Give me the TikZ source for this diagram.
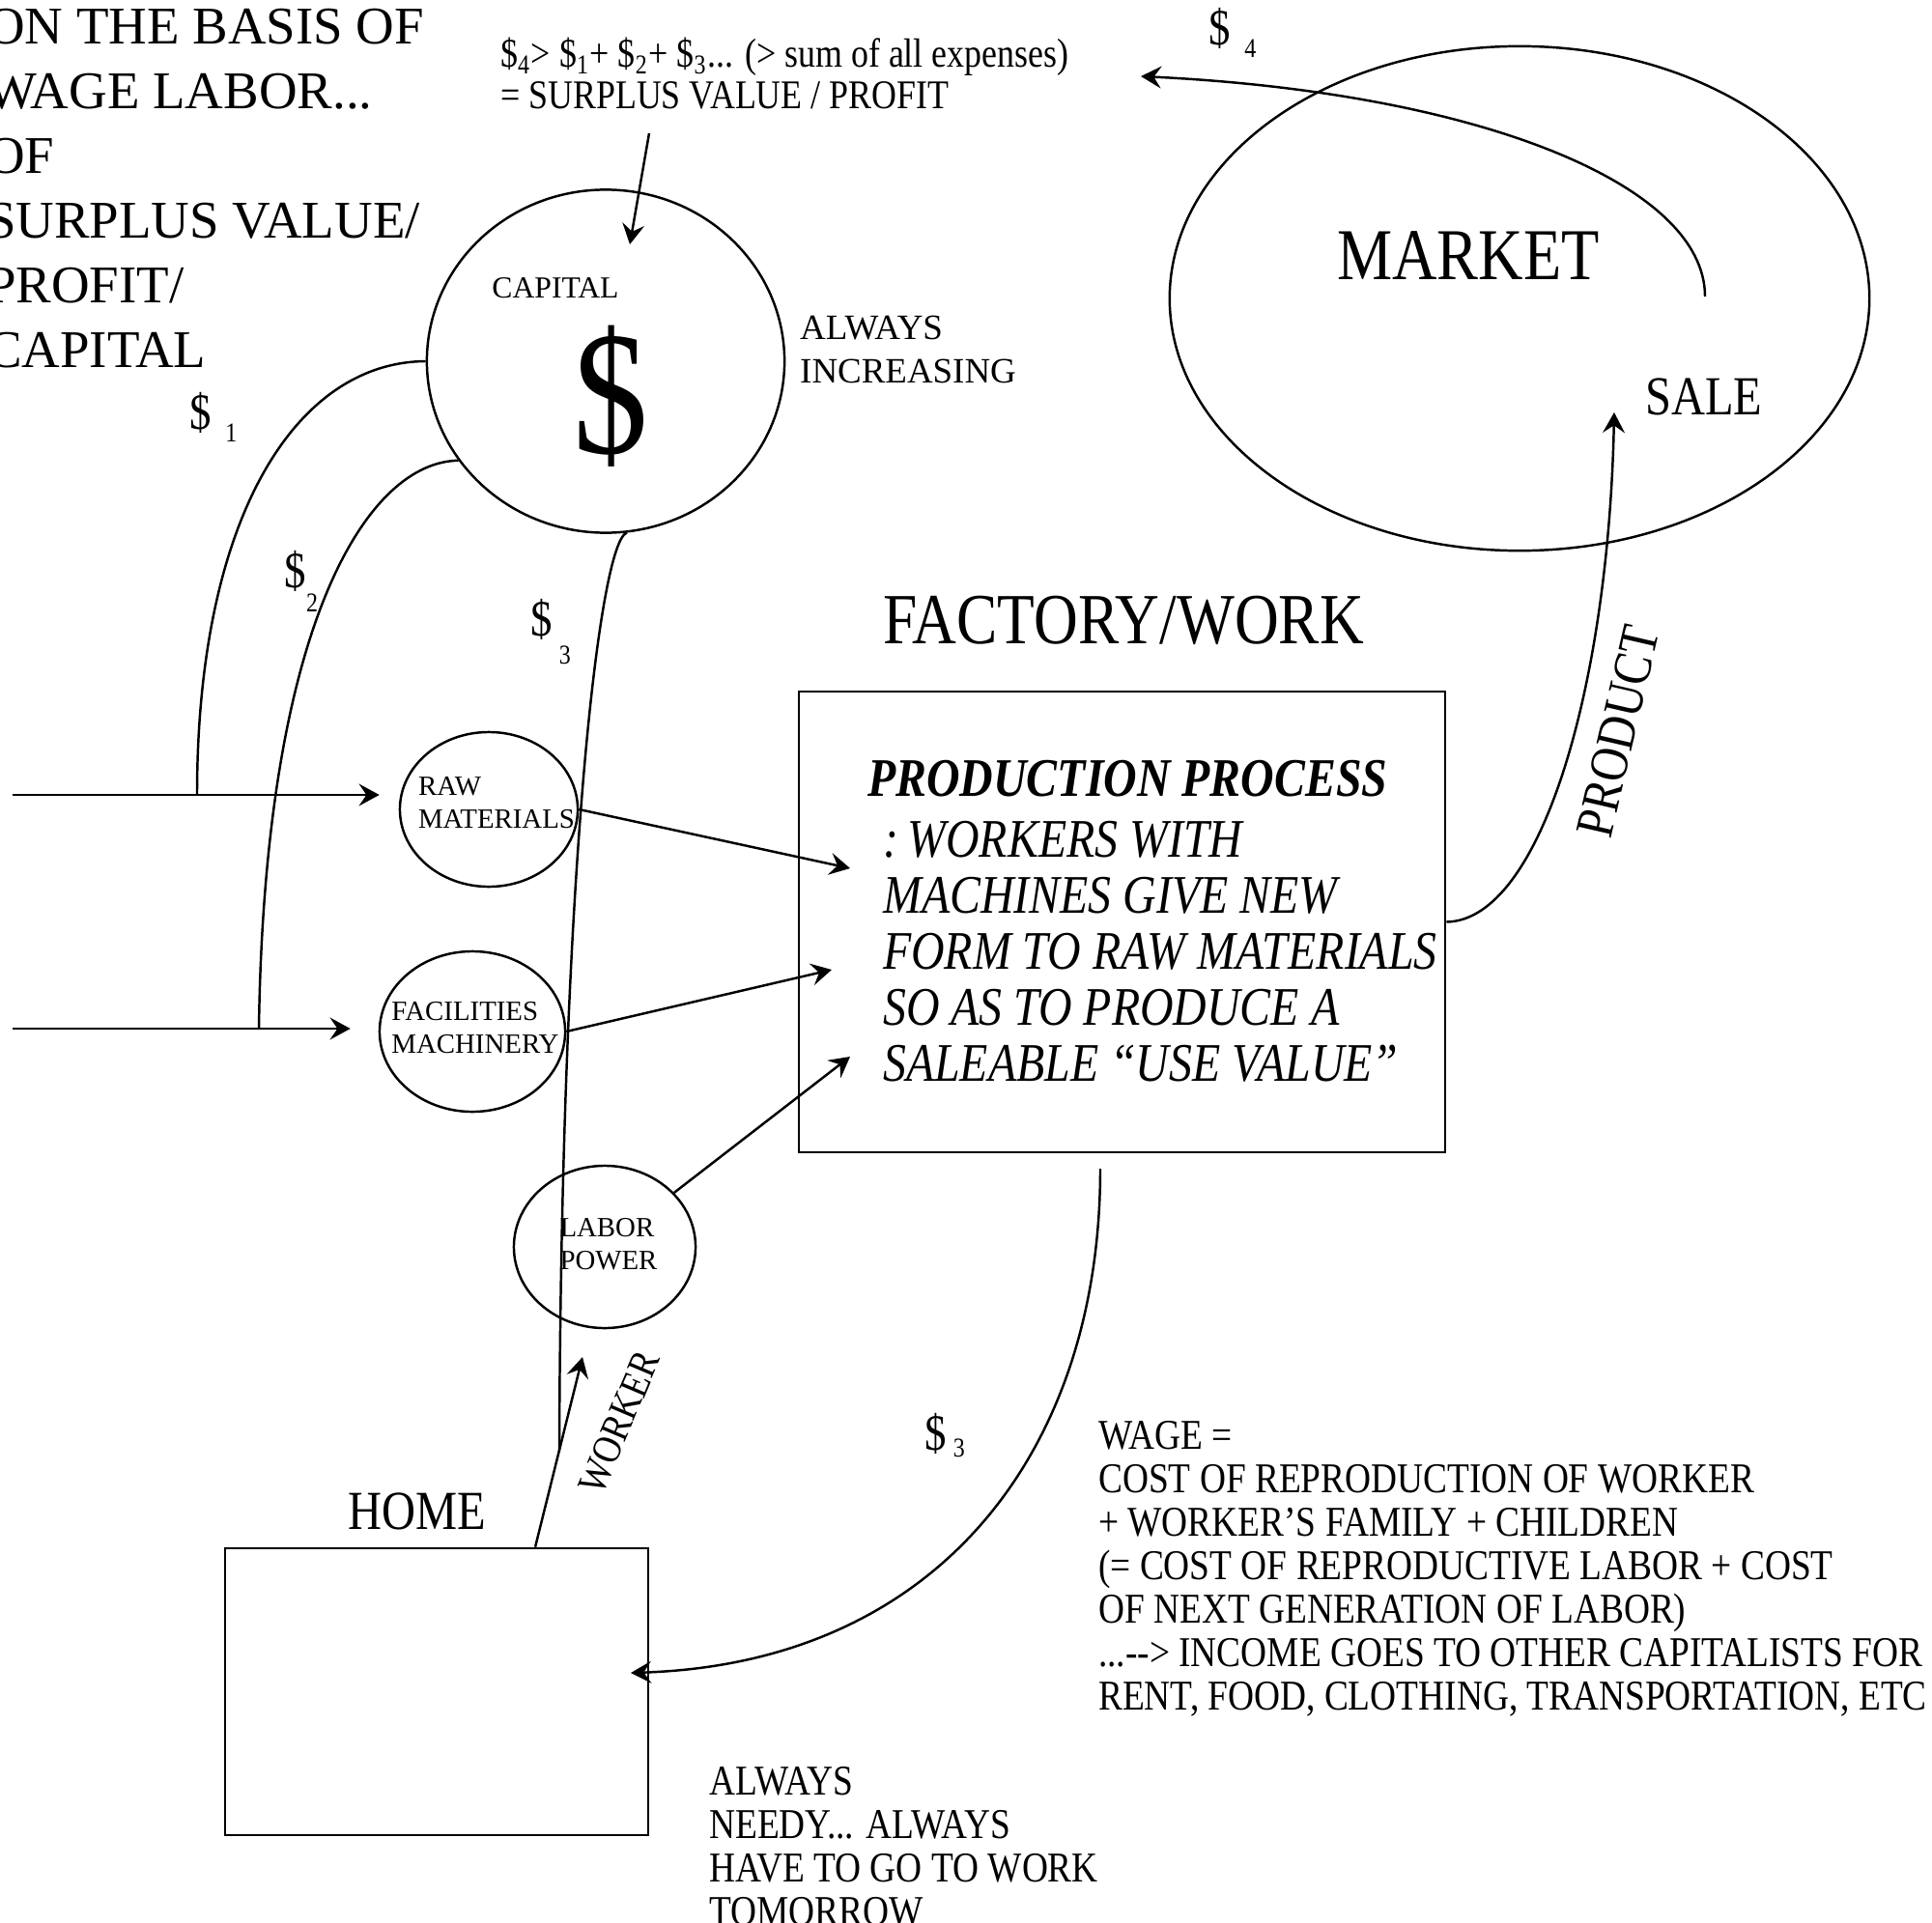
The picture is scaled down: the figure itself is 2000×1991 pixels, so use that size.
\documentclass[tikz,border=0pt]{standalone}
\usepackage{fontspec}
\setmainfont{Liberation Serif}[FakeStretch=0.85]
\newfontfamily\plainfont{Liberation Serif}
\usetikzlibrary{shapes.geometric, arrows.meta}

% dollar with a dropped index
\newcommand{\dollab}[3]{\$\hspace{#2}\raisebox{#3}{\fontsize{8}{8}\selectfont #1}}

\begin{document}
\begin{tikzpicture}[
    x=0.01cm, y=-0.01cm,
    line width=0.7pt,
    >={Stealth[length=6pt, width=6.5pt, inset=2.2pt]},
    arrow/.style={->},
    bubble/.style={ellipse, draw=black, inner sep=0pt},
    box/.style={rectangle, draw=black, inner sep=0pt},
    txt/.style={inner sep=0pt, align=left, anchor=north west},
    note/.style={font=\fontsize{12.5}{12.8}\selectfont},
    small/.style={font=\plainfont\fontsize{8.2}{9.6}\selectfont, inner sep=0pt, align=left},
    money/.style={font=\fontsize{15}{16}\selectfont, inner sep=0pt},
    heading/.style={font=\fontsize{21.3}{24}\selectfont, inner sep=0pt},
    label/.style={font=\fontsize{16.2}{18}\selectfont, inner sep=0pt}
]
\useasboundingbox (0,0) rectangle (2000,1991);

% Nodes
\node (capital) [bubble, minimum width=3.70cm, minimum height=3.55cm] at (627,374) {};
\node (capitalText) [inner sep=0pt, font=\plainfont\fontsize{9}{11}\selectfont] at (575,298) {CAPITAL};
\node (bigDollar) [inner sep=0pt, font=\fontsize{52}{56}\selectfont] at (632,410) {\$};
\node (rawMaterials) [bubble, minimum width=1.84cm, minimum height=1.60cm] at (506,838) {};
\node (facilities) [bubble, minimum width=1.92cm, minimum height=1.66cm] at (489,1068) {};
\node (laborPower) [bubble, minimum width=1.88cm, minimum height=1.68cm] at (626,1291) {};
\node (rawText) [small] at (514,831) {RAW\\MATERIALS};
\node (facText) [small] at (492,1064) {FACILITIES\\MACHINERY};
\node (laborText) [small] at (630,1288) {LABOR\\POWER};
\node (factory) [box, minimum width=6.69cm, minimum height=4.77cm] at (1161.5,954.5) {};
\node (home) [box, minimum width=4.38cm, minimum height=2.97cm] at (452,1751.5) {};
\node (market) [bubble, minimum width=7.24cm, minimum height=5.22cm] at (1573,309) {};

\node (basis) [txt, font=\plainfont\fontsize{15.6}{19.05}\selectfont] at (-15,8)
    {ON THE BASIS OF\\WAGE LABOR...\\OF\\SURPLUS VALUE/\\PROFIT/\\CAPITAL};
\node (formula) [txt, font=\fontsize{12}{12.2}\selectfont] at (517,38)
    {\$\textsubscript{4}> \$\textsubscript{1}+ \$\textsubscript{2}+ \$\textsubscript{3}... (> sum of all expenses)\\= SURPLUS VALUE / PROFIT};
\node (increasing) [txt, font=\plainfont\fontsize{10.5}{12.8}\selectfont] at (827,326) {ALWAYS\\INCREASING};
\node (dollarOne) [money] at (221,432) {\dollab{1}{4pt}{-3.5pt}};
\node (dollarTwo) [money] at (312,602) {\dollab{2}{0pt}{-7pt}};
\node (dollarThree) [money] at (570,654) {\dollab{3}{2pt}{-8pt}};
\node (dollarFour) [money] at (1276,34) {\dollab{4}{4pt}{-3.5pt}};
\node (dollarWage) [money] at (978,1486) {\dollab{3}{2pt}{-2pt}};

\node (factoryTitle) [heading, font=\fontsize{21.2}{24}\selectfont] at (1163,642) {FACTORY/WORK};
\node (prodTitle) [inner sep=0pt, anchor=west, font=\fontsize{16}{18}\selectfont\bfseries\itshape] at (897,806) {PRODUCTION PROCESS};
\node (prodBody) [txt, font=\fontsize{16}{16.5}\selectfont\itshape] at (913,849)
    {:\,WORKERS WITH\\MACHINES GIVE NEW\\FORM TO RAW MATERIALS\\SO AS TO PRODUCE A\\SALEABLE “USE VALUE”};
\node (marketText) [heading, font=\fontsize{21.5}{24}\selectfont] at (1520,265) {MARKET};
\node (saleText) [label] at (1764,411) {SALE};
\node (productText) [label, font=\fontsize{15.9}{18}\selectfont, rotate=77] at (1675,757) {PRODUCT};
\node (homeText) [label] at (432,1565) {HOME};
\node (workerText) [inner sep=0pt, font=\fontsize{12}{14}\selectfont, rotate=67] at (641,1473) {WORKER};
\node (wage) [txt, note] at (1136,1470)
    {WAGE =\\COST OF REPRODUCTION OF WORKER\\+ WORKER’S FAMILY + CHILDREN\\(= COST OF REPRODUCTIVE LABOR + COST\\OF NEXT GENERATION OF LABOR)\\...-{}-> INCOME GOES TO OTHER CAPITALISTS FOR\\RENT, FOOD, CLOTHING, TRANSPORTATION, ETC};
\node (needy) [txt, note] at (733,1828) {ALWAYS\\NEEDY... ALWAYS\\HAVE TO GO TO WORK\\TOMORROW};

% free ends
\coordinate (in1) at (13,823);
\coordinate (in2) at (13,1065);
\coordinate (j1) at (204,823);
\coordinate (j2) at (268,1065);
\coordinate (s3) at (579,1503);
\coordinate (f1) at (880,899);
\coordinate (f2) at (861,1004);
\coordinate (f3) at (880,1094);
\coordinate (wTip) at (603,1405);
\coordinate (wageStart) at (1139,1210);
\coordinate (wageEnd) at (653,1732);
\coordinate (saleTip) at (1671,427);
\coordinate (marketStart) at (1765,307);
\coordinate (profitTip) at (1181,79);
\coordinate (noteStart) at (672,138);
\coordinate (noteTip) at (652,253);

% Arrows
\draw [arrow, shorten >=0.2cm] (in1) -- (rawMaterials.west |- in1);
\draw [arrow, shorten >=0.29cm] (in2) -- (facilities.west |- in2);
\draw (capital.west) .. controls (306,375) and (204,536) .. (j1);
\draw (capital.214) .. controls (383,478) and (274,638) .. (j2);
\draw (capital.277) .. controls (621,561) and (581,893) .. (s3);
\draw [arrow] (rawMaterials.east) -- (f1);
\draw [arrow] (facilities.east) -- (f2);
\draw [arrow] (laborPower.38) -- (f3);
\draw [arrow] ([xshift=1.02cm]home.north) -- (wTip);
\draw [arrow] (wageStart) .. controls (1139,1505) and (969,1722) .. (wageEnd);
\draw [arrow] (factory.east) .. controls (1594,953) and (1665,714) .. (saleTip);
\draw [arrow] (marketStart) .. controls (1765,191) and (1531,96) .. (profitTip);
\draw [arrow] (noteStart) -- (noteTip);
\end{tikzpicture}
\end{document}
